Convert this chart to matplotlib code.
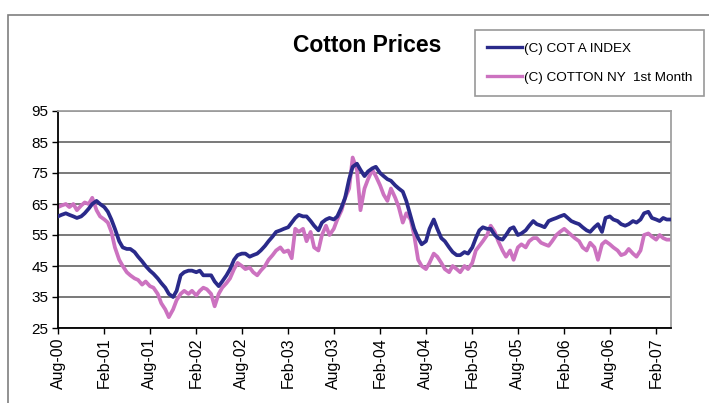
import matplotlib
matplotlib.use("Agg")
import matplotlib.pyplot as plt
import matplotlib.dates as mdates
from matplotlib.patches import Rectangle
import pandas as pd

plt.rcParams['font.family'] = ['Liberation Sans', 'DejaVu Sans']

# semi-monthly readings, Aug 2000 .. Apr 2007
dates = pd.date_range("2000-08-01", periods=161, freq="SMS")

cot_a_index = [
    61, 61.5, 62, 61.5, 61, 60.5, 61, 62, 63.5, 65, 66, 65, 64, 62.5, 60, 57,
    53, 51, 50.5, 50.5, 49.5, 48, 46.5, 45, 43.5, 42.5, 41, 39.5, 38, 36, 35, 37,
    42, 43, 43.5, 43.5, 43, 43.5, 42, 42, 42, 40, 38.5, 40, 42, 44, 47, 48.5,
    49, 49, 48, 48.5, 49, 50, 51.5, 53, 54.5, 56, 56.5, 57, 57.5, 59, 60.5, 61.5,
    61, 61, 59.5, 58, 56.5, 59, 60, 60.5, 60, 61, 64, 67, 73, 77, 78, 76,
    74, 75.5, 76.5, 77, 75, 74, 73, 72.5, 71, 70, 69, 66, 61, 57, 54, 52,
    53, 57, 60, 57, 54, 53, 51, 49.5, 48.5, 48.5, 49.5, 49, 51, 54, 56.5, 57.5,
    57, 57, 55, 54, 53.5, 55, 57, 57.5, 55, 55.5, 56.5, 58, 59.5, 58.5, 58, 57.5,
    59.5, 60, 60.5, 61, 61.5, 60.5, 59.5, 59, 58.5, 57.5, 56.5, 56, 57.5, 58.5, 56, 60.5,
    61, 60, 59.5, 58.5, 58, 58.5, 59.5, 59, 60, 62, 62.5, 60.5, 60, 59.5, 60.5, 60,
    60,
]

cotton_ny_1st = [
    64, 64.5, 65, 64, 65, 63, 64.5, 65.5, 65, 67, 63, 61, 60, 59, 56, 51,
    47, 45, 43, 42, 41, 40.5, 39, 40, 38.5, 38, 36, 33, 31, 28.5, 31, 34,
    36, 37, 36, 37, 35.5, 37, 38, 37.5, 36, 32, 36, 38, 39.5, 41, 44, 46,
    45, 44, 44.5, 43, 42, 43.5, 45, 47, 48.5, 50, 51, 49.5, 50, 47.5, 57, 56,
    57, 53, 56, 51, 50, 55, 58, 55, 57, 60, 63, 67, 70, 80, 76, 63,
    70, 73, 76, 74, 71, 68, 66, 70, 67, 64, 59, 62, 60, 55, 47, 45,
    44, 46, 49, 48, 46, 44, 43, 45, 44, 43, 45, 44, 46, 50, 51.5, 53,
    55, 58, 56, 53, 50, 48, 50, 47, 51, 52, 51, 53, 54, 54, 52.5, 52,
    51.5, 53, 55, 56, 57, 56, 55, 54, 53, 51, 50, 52.5, 51, 47, 52, 53,
    52, 51, 50, 48.5, 49, 50.5, 49, 48, 50, 55, 55.5, 54.5, 53.5, 55, 54, 53.5,
    53.5,
]

tick_dates = pd.date_range("2000-08-01", "2007-02-01", freq="6MS")

fig = plt.figure(figsize=(7.09, 4.03), dpi=100)
fig.patch.set_facecolor("white")

# outer chart border (runs off the right and bottom edge)
fig.patches.append(Rectangle((8 / 709, -0.2), 1.3, 0.2 + 1 - 15 / 403,
                             transform=fig.transFigure, fill=False,
                             edgecolor="#7f7f7f", linewidth=1.2))

ax = fig.add_axes([58 / 709, 1 - 328 / 403, (671 - 58) / 709, (328 - 111) / 403])

ax.plot(dates, cot_a_index, color="#2a2a8a", linewidth=2.7,
        label="(C) COT A INDEX", zorder=3)
ax.plot(dates, cotton_ny_1st, color="#cc72c0", linewidth=2.7,
        label="(C) COTTON NY  1st Month", zorder=2)

ax.set_ylim(25, 95)
ax.set_yticks(range(25, 96, 10))
ax.set_xlim(pd.Timestamp("2000-08-01"), pd.Timestamp("2007-04-01"))
ax.set_xticks(tick_dates)
ax.xaxis.set_major_formatter(mdates.DateFormatter("%b-%y"))
plt.setp(ax.get_xticklabels(), rotation=90, fontsize=11.5)
plt.setp(ax.get_yticklabels(), fontsize=11)
ax.tick_params(axis="both", direction="out", length=4, width=1, color="black", pad=3)

ax.grid(axis="y", color="#6e6e6e", linewidth=1.3)
ax.set_axisbelow(True)
ax.spines["left"].set_color("black")
ax.spines["bottom"].set_color("black")
ax.spines["top"].set_color("#a0a0a0")
ax.spines["right"].set_color("#a0a0a0")
for s in ax.spines.values():
    s.set_linewidth(1.3)

fig.text(367 / 709, 1 - 46 / 403, "Cotton Prices", ha="center", va="center",
         fontsize=16.5, fontweight="bold")

leg = fig.legend(loc="upper left", bbox_to_anchor=(475 / 709, 1 - 30 / 403),
                 fontsize=9.7, frameon=True, fancybox=False, handlelength=2.6,
                 handletextpad=0.12, borderpad=0.9, labelspacing=1.25,
                 borderaxespad=0)
leg.get_frame().set_edgecolor("#7f7f7f")
leg.get_frame().set_linewidth(1.2)
for line in leg.get_lines():
    line.set_linewidth(2.4)

fig.savefig("out.png", dpi=100)
